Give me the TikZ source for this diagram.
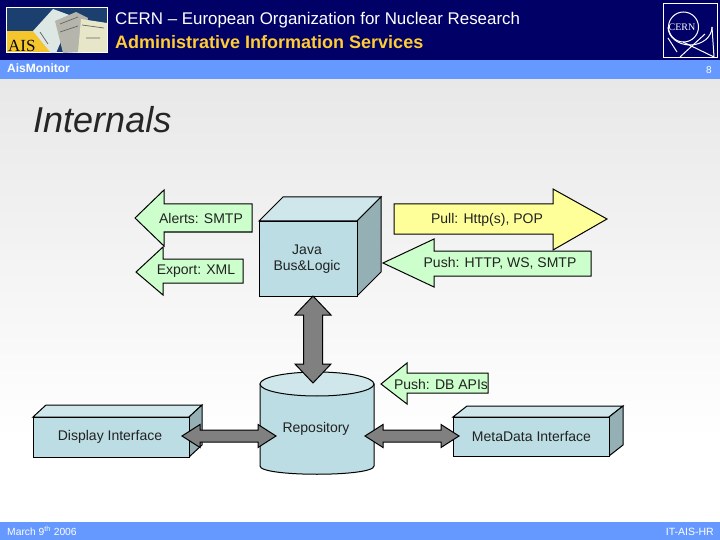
\documentclass[tikz,border=0pt]{standalone}
\usepackage{fontspec}
\setmainfont{Liberation Sans}
\newfontfamily\aisfont{Liberation Serif}
\usetikzlibrary{calc}
\definecolor{navy}{HTML}{000066}
\definecolor{barblue}{HTML}{6699FF}
\definecolor{boxfront}{HTML}{BBDDE3}
\definecolor{boxtop}{HTML}{CFE6EA}
\definecolor{boxside}{HTML}{95B0B5}
\definecolor{arrowgreen}{HTML}{CCFFCC}
\definecolor{arrowyellow}{HTML}{FFFF99}
\definecolor{arrowgray}{HTML}{808080}
\definecolor{ltitle}{HTML}{FFCC33}
\definecolor{ink}{HTML}{222222}
\definecolor{logoblue}{HTML}{1B3F6E}
\definecolor{logoyellow}{HTML}{F5C52E}
\definecolor{paperA}{HTML}{DDE8E4}
\definecolor{paperB}{HTML}{B5B5AC}
\definecolor{paperC}{HTML}{E8E6C8}
\newcommand{\fsz}[1]{\fontsize{#1}{#1}\selectfont}
% double-headed block arrow between two named coordinates
% #1 from, #2 to, #3 head length, #4 half head width, #5 half shaft width
\newcommand{\dblblock}[5]{%
  \coordinate (ba) at ($(#1)!#3pt!(#2)$);
  \coordinate (bb) at ($(#2)!#3pt!(#1)$);
  \draw[grayarrow] (#1)
    -- ($(ba)!#4pt!90:(bb)$) -- ($(ba)!#5pt!90:(bb)$)
    -- ($(bb)!#5pt!-90:(ba)$) -- ($(bb)!#4pt!-90:(ba)$)
    -- (#2)
    -- ($(bb)!#4pt!90:(ba)$) -- ($(bb)!#5pt!90:(ba)$)
    -- ($(ba)!#5pt!-90:(bb)$) -- ($(ba)!#4pt!-90:(bb)$)
    -- cycle;}
% left-pointing block arrow: style, tip x, tip y, head back x, head top, head bottom, shaft top, shaft bottom, right x
\newcommand{\leftblock}[9]{%
  \draw[#1] (#2,#3) -- (#4,#5) -- (#4,#7) -- (#9,#7) -- (#9,#8) -- (#4,#8) -- (#4,#6) -- cycle;}
% cuboid: name, x, y, width, height, dx, dy
\newcommand{\cuboid}[7]{%
  \draw[boxline,fill=boxtop] (#2,#3) -- ++(#6,-#7) -- ++(#4,0) -- ++(-#6,#7) -- cycle;
  \draw[boxline,fill=boxside] (#2+#4,#3) -- ++(#6,-#7) -- ++(0,#5) -- ++(-#6,#7) -- cycle;
  \node[face,minimum width=#4pt,minimum height=#5pt] (#1) at (#2,#3) {};}
\tikzset{
  boxline/.style={draw=black,line width=1pt,line join=miter},
  face/.style={boxline,fill=boxfront,anchor=north west,inner sep=0pt},
  greenarrow/.style={draw=black,line width=1pt,fill=arrowgreen},
  yellowarrow/.style={draw=black,line width=1pt,fill=arrowyellow},
  grayarrow/.style={draw=black,line width=1pt,fill=arrowgray},
  label/.style={font=\fsz{14},text=ink,inner sep=0pt},
  barlabel/.style={text=white,inner sep=0pt},
  logoline/.style={draw=white,line width=1pt},
}
\begin{document}
\begin{tikzpicture}[x=1pt,y=-1pt]
\useasboundingbox (0,0) rectangle (720,540);
% backgrounds
\fill[white] (0,0) rectangle (720,540);
\shade[top color=black!9,bottom color=white] (0,79) rectangle (720,440);
\fill[navy] (0,0) rectangle (720,60);
\fill[barblue] (0,60) rectangle (720,79);
\fill[barblue] (0,522) rectangle (720,540);
% AIS logo
\fill[white] (6,7) rectangle (108,53);
\fill[logoblue] (7,8) rectangle (107,52);
\fill[logoyellow] (7,31) rectangle (52,52);
\fill[paperA] (33,31) -- (53,9) -- (72,16) -- (56,53) -- (51,53) -- cycle;
\fill[paperB] (55,21) -- (76,12) -- (88,18) -- (82,52) -- (63,53) -- cycle;
\fill[paperC] (81,19) -- (107,23) -- (107,52) -- (78,52) -- cycle;
\draw[black!60,line width=.7pt] (60,24) -- (78,17) (82,25) -- (104,28) (60,32) -- (78,26) (86,38) -- (100,38) (40,32) -- (48,44);
\node[font=\aisfont\fsz{17},text=black!85!logoblue,inner sep=0pt,anchor=west] (aislogo) at (8,46) {AIS};
% CERN logo
\draw[white,line width=1pt,fill=navy] (663,4) rectangle (717,58);
\draw[logoline] (683.5,27) circle (15);
\draw[logoline] (668,27) arc (180:0:22 and 18);
\draw[logoline] (712,27) -- (714,57) (683,42) -- (714,57) (680,57) -- (705,34) (668,38) -- (677,52);
\node[font=\aisfont\fsz{10},text=white,inner sep=0pt] (cernlogo) at (682,27) {CERN};
% header text
\node[barlabel,font=\fsz{16.9},anchor=base west] (t1) at (115,25) {CERN – European Organization for Nuclear Research};
\node[barlabel,font=\bfseries\fsz{18},text=ltitle,anchor=base west] (t2) at (115,49) {Administrative Information Services};
\node[barlabel,font=\bfseries\fsz{12},anchor=base west] (t3) at (7,73) {AisMonitor};
\node[barlabel,font=\fsz{10},anchor=base east] (t4) at (712,74) {8};
\node[barlabel,font=\fsz{10.3},anchor=base west] (t5) at (7,535) {March 9\textsuperscript{th} 2006};
\node[barlabel,font=\fsz{10.5},anchor=base east] (t6) at (714,535) {IT-AIS-HR};
\node[font=\itshape\fsz{36},text=black!85,inner sep=0pt,anchor=base west] (title) at (33,133) {Internals};
% cylinder
\draw[boxline,fill=boxfront] (260,384) -- (260,466) .. controls (260,477) and (374,477) .. (374,466) -- (374,384) -- cycle;
\draw[boxline,fill=boxtop] (317,384) ellipse (57 and 12);
\node[label] (repo) at (316,429) {Repository};
% cuboids
\cuboid{java}{259}{221}{98}{75}{24}{24}
\node[label,align=center] (javalabel) at (307,259) {Java\\[2pt]Bus\&Logic};
\cuboid{display}{33}{417}{156}{40}{13}{12}
\node[label] (displaylabel) at (110,437) {Display Interface};
\cuboid{meta}{453}{417}{156}{39}{14}{11}
\node[label] (metalabel) at (531.5,437) {MetaData Interface};
% block arrows: left column
\leftblock{greenarrow}{135}{218}{164}{190}{246}{204}{232}{252}
\node[label] (alerts) at (201,218) {Alerts: SMTP};
\leftblock{greenarrow}{136}{272}{163}{247}{295}{259}{283}{243}
\node[label] (export) at (196,271) {Export: XML};
% right column
\draw[yellowarrow] (394,204) -- (553,204) -- (553,189) -- (607,219) -- (553,250) -- (553,234) -- (394,234) -- cycle;
\node[label] (pull) at (487,220) {Pull: Http(s), POP};
\leftblock{greenarrow}{383}{263}{434}{239}{287}{251}{276}{591}
\node[label] (push) at (500,263) {Push: HTTP, WS, SMTP};
\leftblock{greenarrow}{381}{384}{407}{363}{404}{373}{393}{488}
\node[label] (pushdb) at (441,384) {Push: DB APIs};
% double arrows
\coordinate (vtop) at (313,296);
\coordinate (vbot) at (313,383);
\coordinate (dl) at (182,436);
\coordinate (dr) at (276,436);
\coordinate (ml) at (365,436);
\coordinate (mr) at (459,436);
\dblblock{vtop}{vbot}{19}{18}{9.5}
\dblblock{dl}{dr}{18}{11.5}{6}
\dblblock{ml}{mr}{18}{11.5}{6}
\end{tikzpicture}
\end{document}
